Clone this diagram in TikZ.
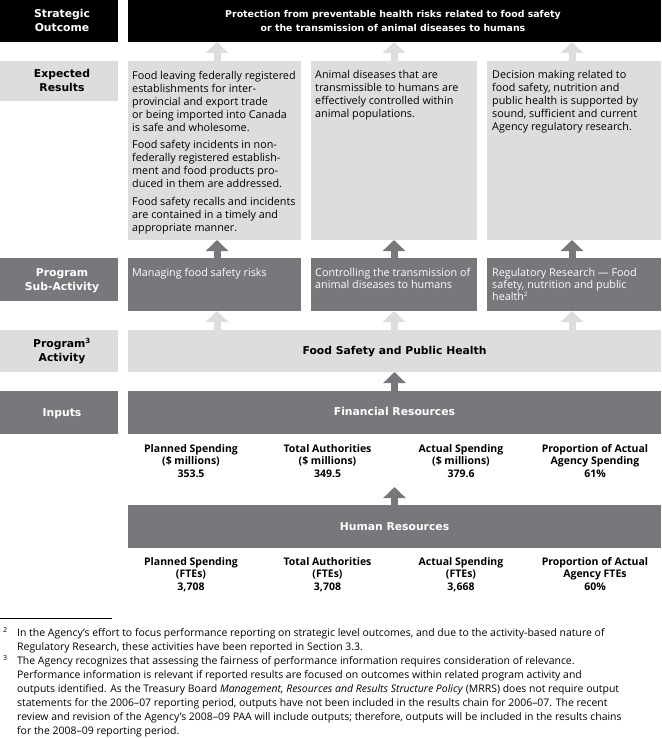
\documentclass[tikz,border=0pt]{standalone}
\usepackage{fontspec}
\setmainfont{Open Sans}
\newfontfamily\lblfont{DejaVu Sans}
\usetikzlibrary{arrows.meta,calc}
\definecolor{ltg}{HTML}{DCDDDF}
\definecolor{dkg}{HTML}{77787B}
\begin{document}
\begin{tikzpicture}[x=1pt,y=-1pt,
  box/.style={inner sep=0pt, outer sep=0pt, anchor=north west, draw=none},
  blackbox/.style={box, fill=black},
  lightbox/.style={box, fill=ltg},
  darkbox/.style={box, fill=dkg},
  lbl/.style={inner sep=0pt, align=center, anchor=base, font=\lblfont\fontsize{10.8}{14}\selectfont\bfseries},
  body/.style={inner sep=0pt, align=left, anchor=base west, font=\fontsize{10.8}{13}\selectfont},
  fig/.style={inner sep=0pt, align=center, anchor=base, font=\fontsize{10.5}{12.5}\selectfont\bfseries},
  foot/.style={inner sep=0pt, align=left, anchor=base west, font=\fontsize{10.45}{14}\selectfont},
  larrow/.style={draw=ltg, line width=7pt, -{Triangle[width=22pt,length=11pt]}},
  darrow/.style={draw=dkg, line width=7pt, -{Triangle[width=22pt,length=11pt]}}
]
\useasboundingbox (0,0) rectangle (661,738);
% boxes
\node[blackbox, minimum width=118pt, minimum height=42pt] (soL) at (0,0) {};
\node[blackbox, minimum width=533pt, minimum height=42pt] (soR) at (128,0) {};
\node[lightbox, minimum width=118pt, minimum height=40pt] (erL) at (0,61) {};
\node[lightbox, minimum width=173pt, minimum height=179pt] (er1) at (128,61) {};
\node[lightbox, minimum width=166pt, minimum height=179pt] (er2) at (311,61) {};
\node[lightbox, minimum width=174pt, minimum height=179pt] (er3) at (487,61) {};
\node[darkbox, minimum width=118pt, minimum height=43pt] (saL) at (0,258) {};
\node[darkbox, minimum width=173pt, minimum height=53pt] (sa1) at (128,258) {};
\node[darkbox, minimum width=166pt, minimum height=53pt] (sa2) at (311,258) {};
\node[darkbox, minimum width=174pt, minimum height=53pt] (sa3) at (487,258) {};
\node[lightbox, minimum width=118pt, minimum height=42pt] (paL) at (0,330) {};
\node[lightbox, minimum width=533pt, minimum height=42pt] (pa) at (128,330) {};
\node[darkbox, minimum width=118pt, minimum height=43pt] (inL) at (0,391) {};
\node[darkbox, minimum width=533pt, minimum height=43pt] (fin) at (128,391) {};
\node[darkbox, minimum width=533pt, minimum height=43pt] (hr) at (128,505) {};
% left labels (anchor = baseline of last line)
\node[lbl, text=white, font=\lblfont\fontsize{10.8}{14.5}\selectfont\bfseries] (soLt) at (62,32) {Strategic\\Outcome};
\node[lbl] (erLt) at (62,92) {Expected\\Results};
\node[lbl, text=white, font=\lblfont\fontsize{10.8}{13.5}\selectfont\bfseries] (saLt) at (62,290) {Program\\Sub-Activity};
\node[lbl] (paLt) at (62,361) {Program\textsuperscript{\fontsize{7}{7}\selectfont 3}\\Activity};
\node[lbl, text=white] (inLt) at (62,416) {Inputs};
% main labels
\node[lbl, text=white, font=\lblfont\fontsize{9.4}{14.5}\selectfont\bfseries] (soRt) at (393,32) {Protection from preventable health risks related to food safety\\or the transmission of animal diseases to humans};
\node[lbl] (pat) at (394.5,354) {Food Safety and Public Health};
\node[lbl, text=white] (fint) at (394.5,415) {Financial Resources};
\node[lbl, text=white] (hrt) at (394.5,530) {Human Resources};
% expected results text
\node[body] (er1t) at (132,231) {Food leaving federally registered\\establishments for inter-\\provincial and export trade\\or being imported into Canada\\is safe and wholesome.\\[4.5pt]Food safety incidents in non-\\federally registered establish-\\ment and food products pro-\\duced in them are addressed.\\[4.5pt]Food safety recalls and incidents\\are contained in a timely and\\appropriate manner.};
\node[body] (er2t) at (315,118) {Animal diseases that are\\transmissible to humans are\\effectively controlled within\\animal populations.};
\node[body] (er3t) at (492,131) {Decision making related to\\food safety, nutrition and\\public health is supported by\\sound, sufficient and current\\Agency regulatory research.};
% sub-activity text
\node[body, text=white, font=\fontsize{10.8}{12}\selectfont] (sa1t) at (132,276) {Managing food safety risks};
\node[body, text=white, font=\fontsize{10.8}{12}\selectfont] (sa2t) at (315,288) {Controlling the transmission of\\animal diseases to humans};
\node[body, text=white, font=\fontsize{10.8}{12}\selectfont] (sa3t) at (492,300) {Regulatory Research — Food\\safety, nutrition and public\\health\textsuperscript{\fontsize{6}{6}\selectfont 2}};
% financial figures
\node[fig] (f1) at (191,477) {Planned Spending\\(\$ millions)\\353.5};
\node[fig] (f2) at (327.5,477) {Total Authorities\\(\$ millions)\\349.5};
\node[fig] (f3) at (461,477) {Actual Spending\\(\$ millions)\\379.6};
\node[fig] (f4) at (595,477) {Proportion of Actual\\Agency Spending\\61\%};
\node[fig] (h1) at (191,590) {Planned Spending\\(FTEs)\\3,708};
\node[fig] (h2) at (327.5,590) {Total Authorities\\(FTEs)\\3,708};
\node[fig] (h3) at (461,590) {Actual Spending\\(FTEs)\\3,668};
\node[fig] (h4) at (595,590) {Proportion of Actual\\Agency FTEs\\60\%};
% arrows
\draw[larrow] ([xshift=2.5pt]er1.north) -- ([xshift=2.5pt]er1.north |- soR.south);
\draw[larrow] (er2.north) -- (er2.north |- soR.south);
\draw[larrow] ([xshift=-2pt]er3.north) -- ([xshift=-2pt]er3.north |- soR.south);
\draw[darrow] ([xshift=2.5pt]sa1.north) -- ([xshift=2.5pt]sa1.north |- er1.south);
\draw[darrow] (sa2.north) -- (sa2.north |- er2.south);
\draw[darrow] ([xshift=-2pt]sa3.north) -- ([xshift=-2pt]sa3.north |- er3.south);
\draw[larrow] ([xshift=2.5pt]sa1.south |- pa.north) -- ([xshift=2.5pt]sa1.south);
\draw[larrow] (sa2.south |- pa.north) -- (sa2.south);
\draw[larrow] ([xshift=-2pt]sa3.south |- pa.north) -- ([xshift=-2pt]sa3.south);
\draw[darrow] (fin.north) -- (pa.south);
\coordinate (hrtip) at (394.5,487);
\draw[darrow] (hr.north) -- (hrtip);
% footnotes
\draw[line width=0.6pt] (0,618) -- (112,618);
\node[foot, font=\fontsize{7}{7}\selectfont] (fn2n) at (3,632) {2};
\node[foot] (fn2) at (17,650) {In the Agency’s effort to focus performance reporting on strategic level outcomes, and due to the activity-based nature of\\Regulatory Research, these activities have been reported in Section 3.3.};
\node[foot, font=\fontsize{7}{7}\selectfont] (fn3n) at (3,660) {3};
\node[foot] (fn3) at (17,734) {The Agency recognizes that assessing the fairness of performance information requires consideration of relevance.\\Performance information is relevant if reported results are focused on outcomes within related program activity and\\outputs identified. As the Treasury Board \textit{Management, Resources and Results Structure Policy} (MRRS) does not require output\\statements for the 2006–07 reporting period, outputs have not been included in the results chain for 2006–07. The recent\\review and revision of the Agency’s 2008–09 PAA will include outputs; therefore, outputs will be included in the results chains\\for the 2008–09 reporting period.};
\end{tikzpicture}
\end{document}
